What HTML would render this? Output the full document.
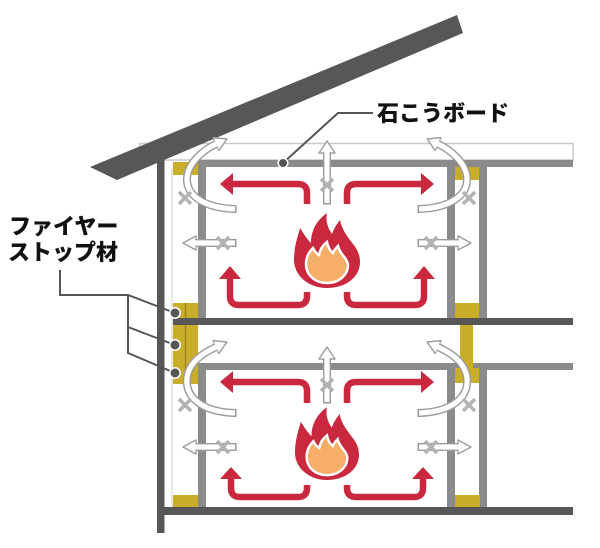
<!DOCTYPE html>
<html><head><meta charset="utf-8"><style>
html,body{margin:0;padding:0;background:#fff;}
svg{display:block;}
text{font-family:"Liberation Sans","Noto Sans CJK JP",sans-serif;font-weight:900;fill:#111;}
</style></head><body>
<svg width="600" height="548" viewBox="0 0 600 548" xmlns="http://www.w3.org/2000/svg">
<rect width="600" height="548" fill="#fff"/>
<!-- board -->
<rect x="140" y="143.5" width="433" height="16.5" fill="#fff" stroke="#c9c9c9" stroke-width="1.5"/>
<!-- ceiling lines -->
<rect x="198" y="160" width="375" height="7" fill="#8b8b8b"/>
<rect x="198" y="363" width="375" height="7" fill="#8b8b8b"/>
<!-- studs -->
<rect x="198" y="160" width="8" height="158" fill="#8b8b8b"/>
<rect x="447" y="160" width="8" height="158" fill="#8b8b8b"/>
<rect x="479" y="160" width="8" height="158" fill="#8b8b8b"/>
<rect x="198" y="363" width="8" height="144" fill="#8b8b8b"/>
<rect x="447" y="363" width="8" height="144" fill="#8b8b8b"/>
<rect x="479" y="363" width="8" height="144" fill="#8b8b8b"/>
<!-- yellow fire stops -->
<g fill="#c9ae2a">
<rect x="173" y="162" width="25" height="13"/>
<rect x="455" y="167" width="24" height="13"/>
<rect x="173" y="303" width="25" height="81"/>
<rect x="455" y="303" width="24" height="15"/>
<rect x="460" y="317" width="13" height="52"/>
<rect x="455" y="368" width="24" height="15"/>
<rect x="173" y="495" width="25" height="12"/>
<rect x="455" y="495" width="25" height="12"/>
</g>
<line x1="185.5" y1="303" x2="185.5" y2="384" stroke="#9a8620" stroke-width="1.5"/>
<!-- floors -->
<rect x="173" y="318" width="400" height="7" fill="#575757"/>
<rect x="157" y="507" width="416" height="8" fill="#575757"/>
<!-- left wall -->
<rect x="157" y="160" width="7.5" height="373" fill="#575757"/>
<line x1="172" y1="168" x2="172" y2="507" stroke="#cfcfcf" stroke-width="1"/>
<!-- roof -->
<polygon points="90,167 457,15 463,33 117,180" fill="#575757"/>

<!-- red arrows -->
<g fill="none" stroke="#c9283e" stroke-width="6.5">
<path d="M307,204 V193 Q307,184 298,184 H231"/>
<path d="M347,204 V193 Q347,184 356,184 H423"/>
<path d="M307,292 V296 Q307,305 298,305 H239 Q230,305 230,296 V277"/>
<path d="M347,292 V296 Q347,305 356,305 H415 Q424,305 424,296 V277"/>
<path d="M307,403 V391 Q307,382 298,382 H231"/>
<path d="M347,403 V391 Q347,382 356,382 H423"/>
<path d="M307,485 V488 Q307,497 298,497 H240 Q231,497 231,488 V477"/>
<path d="M347,485 V488 Q347,497 356,497 H414 Q423,497 423,488 V477"/>
</g>
<g fill="#c9283e">
<polygon points="220,184 233,173 233,195"/>
<polygon points="434,184 421,173 421,195"/>
<polygon points="230,266 219,279 241,279"/>
<polygon points="424,266 413,279 435,279"/>
<polygon points="220,382 233,371 233,393"/>
<polygon points="434,382 421,371 421,393"/>
<polygon points="231,467 220,479 242,479"/>
<polygon points="423,467 412,479 434,479"/>
</g>

<!-- fire -->
<g transform="translate(327,288)">
<path d="M0,0 C-19,0 -33,-13 -33,-28 C-33,-42 -29,-52 -27,-60 C-22,-52 -19,-48 -16,-45 C-16,-58 -10,-68 0,-75 C-2,-66 2,-58 5,-54 C7,-60 10,-64 13,-68 C15,-58 20,-52 26,-44 C31,-38 33,-32 33,-26 C33,-11 19,0 0,0 Z" fill="#c9283e"/>
<path d="M0,-5 C-12,-5 -21,-13 -21,-24 C-21,-32 -17,-37 -14,-40 C-12,-36 -10,-34 -8,-33 C-7,-39 -4,-43 0,-46 C1,-41 3,-37 6,-35 C7,-38 9,-40 11,-42 C12,-37 15,-34 18,-30 C20,-27 21,-25 21,-23 C21,-13 12,-5 0,-5 Z" fill="#f6ae68" stroke="#fff" stroke-width="2.5"/>
</g>
<g transform="translate(327,480) scale(0.97)">
<path d="M0,0 C-19,0 -33,-13 -33,-28 C-33,-42 -29,-52 -27,-60 C-22,-52 -19,-48 -16,-45 C-16,-58 -10,-68 0,-75 C-2,-66 2,-58 5,-54 C7,-60 10,-64 13,-68 C15,-58 20,-52 26,-44 C31,-38 33,-32 33,-26 C33,-11 19,0 0,0 Z" fill="#c9283e"/>
<path d="M0,-5 C-12,-5 -21,-13 -21,-24 C-21,-32 -17,-37 -14,-40 C-12,-36 -10,-34 -8,-33 C-7,-39 -4,-43 0,-46 C1,-41 3,-37 6,-35 C7,-38 9,-40 11,-42 C12,-37 15,-34 18,-30 C20,-27 21,-25 21,-23 C21,-13 12,-5 0,-5 Z" fill="#f6ae68" stroke="#fff" stroke-width="2.5"/>
</g>

<!-- white outlined arrows: heads with outline -->
<g fill="#fff" stroke="#9a9a9a" stroke-width="1.4" stroke-linejoin="round">
<polygon points="327,141 319,153 335,153"/>
<polygon points="327,347 319,359 335,359"/>
<polygon points="183,243 196,236 196,250"/>
<polygon points="471,243 458,236 458,250"/>
<polygon points="183,447 196,440 196,454"/>
<polygon points="471,447 458,440 458,454"/>
<polygon points="226.9,139 218.9,150.4 213.1,137.6"/>
<polygon points="427.1,139 435.1,150.4 440.9,137.6"/>
<polygon points="226.9,342 218.9,353.4 213.1,340.6"/>
<polygon points="427.1,342 435.1,353.4 440.9,340.6"/>
</g>
<!-- shafts gray -->
<g fill="none" stroke="#9a9a9a" stroke-width="8">
<path d="M327,204.5 V152"/>
<path d="M327,403.5 V358"/>
<path d="M236.5,243 H195"/>
<path d="M417.5,243 H459"/>
<path d="M236.5,447 H195"/>
<path d="M417.5,447 H459"/>
<path d="M236.5,209 L235,209 C205,208 186,196 187,178 C188,163 203,150 216,144"/>
<path d="M417.5,209 L419,209 C449,208 468,196 467,178 C466,163 451,150 438,144"/>
<path d="M236.5,413 L235,413 C203,412 185,398 187,378 C189,362 203,353 216,347"/>
<path d="M417.5,413 L419,413 C451,412 469,398 467,378 C465,362 451,353 438,347"/>
</g>
<!-- shafts white -->
<g fill="none" stroke="#fff" stroke-width="5.2">
<path d="M327,203 V150.5"/>
<path d="M327,402 V356.5"/>
<path d="M235,243 H193.5"/>
<path d="M419,243 H460.5"/>
<path d="M235,447 H193.5"/>
<path d="M419,447 H460.5"/>
<path d="M235,209 C205,208 186,196 187,178 C188,163 203,150 216,144 L218,143.1"/>
<path d="M419,209 C449,208 468,196 467,178 C466,163 451,150 438,144 L436,143.1"/>
<path d="M235,413 C203,412 185,398 187,378 C189,362 203,353 216,347 L218,346.1"/>
<path d="M419,413 C451,412 469,398 467,378 C465,362 451,353 438,347 L436,346.1"/>
</g>
<g fill="#fff" stroke="none">
<polygon points="327,142.5 320.3,152.3 333.7,152.3"/>
<polygon points="327,348.5 320.3,358.3 333.7,358.3"/>
<polygon points="184.5,243 195.3,237.2 195.3,248.8"/>
<polygon points="469.5,243 458.7,237.2 458.7,248.8"/>
<polygon points="184.5,447 195.3,441.2 195.3,452.8"/>
<polygon points="469.5,447 458.7,441.2 458.7,452.8"/>
<polygon points="225.3,139.6 218.6,149.2 213.9,138.8"/>
<polygon points="428.7,139.6 435.4,149.2 440.1,138.8"/>
<polygon points="225.3,342.6 218.6,352.2 213.9,341.8"/>
<polygon points="428.7,342.6 435.4,352.2 440.1,341.8"/>
</g>

<!-- gray X marks -->
<g stroke="#b3b3b3" stroke-width="3.5" stroke-linecap="butt">
<path d="M179,192 L191,204 M191,192 L179,204"/>
<path d="M463,192 L475,204 M475,192 L463,204"/>
<path d="M321,179 L333,191 M333,179 L321,191"/>
<path d="M217,237 L229,249 M229,237 L217,249"/>
<path d="M425,237 L437,249 M437,237 L425,249"/>
<path d="M179,399 L191,411 M191,399 L179,411"/>
<path d="M463,399 L475,411 M475,399 L463,411"/>
<path d="M321,379 L333,391 M333,379 L321,391"/>
<path d="M217,441 L229,453 M229,441 L217,453"/>
<path d="M425,441 L437,453 M437,441 L425,453"/>
</g>

<!-- leaders -->
<g fill="none" stroke="#555" stroke-width="2">
<path d="M373,113 H338 L283,163"/>
<path d="M60,270 V295 H128 L175,313"/>
<path d="M128,295 V353 L175,373"/>
<path d="M128,327 L175,345"/>
</g>
<g fill="#555" stroke="#fff" stroke-width="1.5">
<circle cx="283" cy="163" r="4.8"/>
<circle cx="175" cy="313" r="5.2"/>
<circle cx="175" cy="345" r="5.2"/>
<circle cx="175" cy="373" r="5.2"/>
</g>

<!-- labels -->
<text x="377" y="121" font-size="22">石こうボード</text>
<text x="9" y="234" font-size="22">ファイヤー</text>
<text x="8" y="260" font-size="22">ストップ材</text>
</svg>
</body></html>
